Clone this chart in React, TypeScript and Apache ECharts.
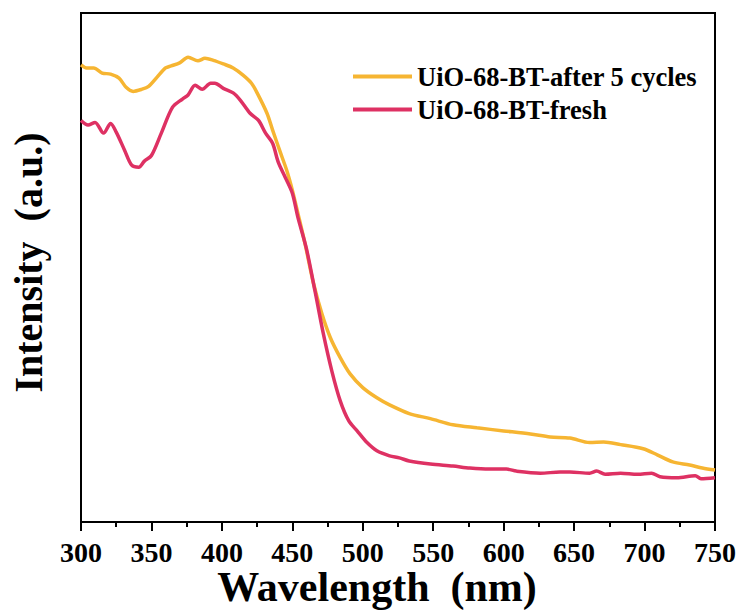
import React, { useEffect, useRef } from "react";
import * as echarts from "echarts";

const seriesNames = ["UiO-68-BT-after 5 cycles", "UiO-68-BT-fresh"];
const seriesColors = ["#F6B532", "#DE3163"];

const xTicks = [300, 350, 400, 450, 500, 550, 600, 650, 700, 750];

// [wavelength (nm), intensity (a.u., 0-100 scale)]
const afterCycles: [number, number][] = [
  [300, 89.8], [304, 89.2], [309, 89.2], [315, 88.2], [321, 88.0], [327, 87.2],
  [332, 85.4], [337, 84.6], [343, 85.0], [348, 85.6], [354, 87.4], [360, 89.2],
  [364, 89.6], [370, 90.2], [376, 91.3], [383, 90.6], [388, 91.1], [394, 90.7],
  [401, 90.0], [408, 89.2], [415, 87.8], [421, 86.2], [425, 84.3], [432, 80.3],
  [436, 77.0], [441, 73.0], [446, 69.1], [450, 65.2], [454, 60.6], [459, 54.7],
  [465, 46.9], [471, 40.9], [477, 36.2], [484, 32.3], [491, 29.1], [500, 26.4],
  [510, 24.4], [519, 23.0], [533, 21.3], [548, 20.3], [564, 19.1], [581, 18.5],
  [600, 17.9], [619, 17.3], [633, 16.7], [647, 16.5], [661, 15.6], [671, 15.7],
  [683, 15.2], [699, 14.4], [709, 13.2], [720, 11.8], [732, 11.2], [741, 10.6],
  [750, 10.2],
];

const fresh: [number, number][] = [
  [300, 78.9], [305, 78.0], [310, 78.5], [316, 76.4], [321, 78.3], [325, 76.6],
  [331, 73.0], [336, 70.1], [341, 69.7], [345, 70.9], [350, 72.0], [357, 76.4],
  [365, 81.5], [372, 83.1], [376, 83.9], [381, 85.8], [386, 85.0], [392, 86.2],
  [395, 86.2], [401, 85.2], [408, 84.3], [413, 82.9], [420, 80.3], [426, 78.9],
  [431, 76.4], [436, 74.4], [440, 70.7], [445, 67.7], [450, 64.6], [454, 59.8],
  [460, 53.7], [466, 45.5], [472, 37.0], [478, 29.7], [484, 23.8], [490, 19.9],
  [496, 17.9], [503, 15.6], [510, 14.0], [519, 13.0], [526, 12.6], [533, 12.0],
  [548, 11.4], [564, 11.0], [576, 10.6], [590, 10.4], [602, 10.4], [609, 10.0],
  [626, 9.6], [640, 9.8], [647, 9.8], [661, 9.6], [666, 10.0], [672, 9.4],
  [683, 9.6], [695, 9.4], [705, 9.6], [711, 8.9], [723, 8.7], [736, 9.1],
  [740, 8.5], [750, 8.7],
];

const FONT = "'Liberation Serif', 'Times New Roman', serif";

export default function App() {
  const ref = useRef<HTMLDivElement>(null);
  useEffect(() => {
    if (!ref.current) return;
    const chart = echarts.init(ref.current, undefined, { renderer: "svg" });
    chart.setOption({
      animation: false,
      backgroundColor: "#ffffff",
      grid: {
        left: 81,
        right: 28,
        top: 13,
        bottom: 92,
        show: true,
        borderColor: "#000",
        borderWidth: 2,
        containLabel: false,
        outerBoundsMode: "none",
      },
      legend: {
        orient: "vertical",
        left: 353,
        top: 63,
        padding: 0,
        itemWidth: 59,
        itemHeight: 4,
        itemGap: 6,
        icon: "rect",
        data: seriesNames,
        textStyle: {
          fontFamily: FONT,
          fontWeight: "bold",
          fontSize: 26.5,
          color: "#000",
          lineHeight: 26,
        },
      },
      xAxis: {
        type: "value",
        min: xTicks[0],
        max: xTicks[xTicks.length - 1],
        interval: 50,
        name: "Wavelength  (nm)",
        nameLocation: "middle",
        nameGap: 47,
        nameMoveOverlap: false,
        nameTextStyle: {
          fontFamily: FONT,
          fontWeight: "bold",
          fontSize: 42,
          lineHeight: 36,
          color: "#000",
          padding: [0, 42, 0, 0],
        },
        axisLine: { show: true, lineStyle: { color: "#000", width: 2 } },
        axisTick: { show: true, length: 9, lineStyle: { color: "#000", width: 2 } },
        minorTick: { show: true, splitNumber: 2, length: 5, lineStyle: { color: "#000", width: 2 } },
        splitLine: { show: false },
        axisLabel: {
          margin: 18,
          fontFamily: FONT,
          fontWeight: "bold",
          fontSize: 28,
          lineHeight: 24,
          color: "#000",
        },
      },
      yAxis: {
        type: "value",
        min: 0,
        max: 100,
        name: "Intensity  (a.u.)",
        nameLocation: "middle",
        nameGap: 33,
        nameMoveOverlap: false,
        nameTextStyle: {
          fontFamily: FONT,
          fontWeight: "bold",
          fontSize: 40,
          color: "#000",
          padding: [0, 0, 0, 10],
        },
        axisLine: { show: true, lineStyle: { color: "#000", width: 2 } },
        axisTick: { show: false },
        axisLabel: { show: false },
        splitLine: { show: false },
      },
      series: [
        {
          name: seriesNames[0],
          type: "line",
          data: afterCycles,
          showSymbol: false,
          smooth: 0.3,
          lineStyle: { color: seriesColors[0], width: 3.5 },
          itemStyle: { color: seriesColors[0] },
        },
        {
          name: seriesNames[1],
          type: "line",
          data: fresh,
          showSymbol: false,
          smooth: 0.3,
          lineStyle: { color: seriesColors[1], width: 3.5 },
          itemStyle: { color: seriesColors[1] },
        },
      ],
    });
    return () => chart.dispose();
  }, []);
  return (
    <div
      ref={ref}
      style={{ position: "fixed", left: 0, top: 0, width: 743, height: 614 }}
    />
  );
}
